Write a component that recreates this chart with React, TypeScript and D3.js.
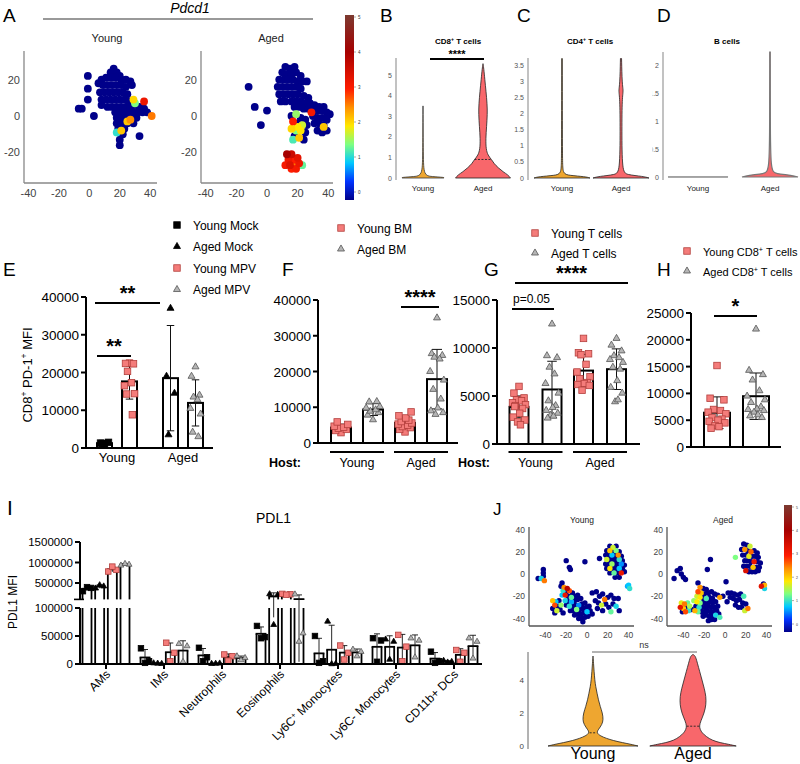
import React from 'react'
import * as d3 from 'd3'

type Pt = [number, number, number]
type Prof = [number, number][]

const FONT = '"Liberation Sans", Arial, Helvetica, sans-serif'
const RED = '#f47c7a', RED_EDGE = '#b33f3c', GREY = '#b5b5b5', GREY_EDGE = '#555'
const ORANGE_V = '#eea630', RED_V = '#f8676b'

// expression colour ramp (jet-like, used by both t-SNE panels)
const exprStops = [0, 0.5, 1, 1.5, 2, 2.5, 3, 4, 5]
const exprColours = ['#00008a', '#0033ff', '#00c8ff', '#7dff82', '#ffe800', '#ff9000', '#ff1c00', '#a60000', '#7c3a30']
const jet = d3.scaleLinear<string>().domain(exprStops).range(exprColours).clamp(true)

// ---------- A: Pdcd1 t-SNE  [x, y, expression]
const aYoung: Pt[] = [
  [16,26,0],[14,24,0],[18,24,0],[20,22,0],
  [8,20,0],[11,21,0],[14,21,0],[17,21,0],[21,20,0],[24,20,0],[27,19,0],
  [6,18,0],[9,17,0],[12,17,0],[15,17,0],[18,17,0],[21,17,0],[24,16,0],[28,17,0],
  [7,13,0],[10,13,0],[13,13,0],[16,13,0],[19,13,0],[22,13,0],[25,12,0],
  [8,9,0],[11,9,0],[14,9,0],[17,9,0],[20,9,0],[23,9,0],[26,8,0],
  [8,6,0],[12,5,0],[15,5,0],[18,5,0],[21,5,0],[24,5,0],[27,5,0],[30,6,0],[33,5,0],[36,4,0],
  [17,2,0],[20,2,0],[23,2,0],[26,2,0],[29,2,0],[32,2,0],[35,2,0],[38,2,0],
  [18,-1,0],[21,-1,0],[24,-1,0],[28,-1,0],[31,-1,0],
  [18,-4,0],[21,-4,0],[25,-4,0],[29,-4,0],[19,-7,0],[23,-7,0],
  [22,-10,0],[20,-13,0],[20,-16,0],
  [-1,22,0],[-1,15,0],[-1,9,0],[-7,4,0],[-5,4,0],[3,0,0],[33,-11,0],
  [41,0,2.6],[36,8,3.2],[29,9,2.1],[27,-2,2.5],[21,-8,2.2],[18,-9,1.2],[30,7,1.5],[25,-3,2.2],
]
const aAged: Pt[] = [
  [12,27,0],[15,26,0],[18,27,0],[10,24,0],[13,23,0],[16,23,0],[19,24,0],[22,22,0],
  [8,20,0],[11,20,0],[14,20,0],[17,20,0],[20,19,0],[23,19,0],[26,19,0],
  [7,16,0],[10,16,0],[13,16,0],[16,16,0],[19,16,0],[22,15,0],
  [8,12,0],[11,12,0],[14,12,0],[17,12,0],[20,12,0],[24,11,0],[27,10,0],
  [9,8,0],[12,8,0],[16,8,0],[19,8,0],[22,8,0],[25,7,0],[28,7,0],[31,6,0],[34,5,0],[37,5,0],
  [18,5,0],[21,5,0],[24,4,0],[27,4,0],[30,3,0],[33,3,0],[36,3,0],[39,2,0],[41,1,0],
  [30,0,0],[33,-1,0],[36,-1,0],[39,-2,0],[31,-4,0],[34,-4,0],[37,-5,0],[33,-8,0],[36,-9,0],[39,-8,0],
  [16,0,0],[19,1,1.6],[22,-1,0],[25,-2,0],[17,-3,3.0],[20,-4,0],[23,-5,1.8],[26,-5,0],[16,-7,2.1],
  [19,-8,1.5],[22,-8,2.0],[25,-9,0],[18,-11,0],[21,-12,2.2],[24,-13,0],[17,-13,1.3],[20,-6,2.0],[29,2,3.1],[37,-6,2.2],
  [13,-21,4],[16,-21,3.6],[14,-24,3.2],[17,-24,3.0],[20,-23,3.3],[12,-27,3.1],[15,-27,3.4],[18,-27,2.6],
  [21,-26,3.2],[23,-27,1.4],[16,-29,3.0],[19,-29,3.1],
  [-12,16,0],[-8,5,0],[0,3,0],[-4,-5,0],
]
const aTicksX = [-40, -20, 0, 20, 40]
const aTicksY = [-20, 0, 20]
const barTicks = [0, 1, 2, 3, 4, 5]

// ---------- B-D violins  [expression, relative half-width]
const bYoung: Prof = [[0,0.75],[0.03,0.8],[0.07,0.3],[0.12,0.03],[1,0.01],[3.5,0]]
const bAged: Prof = [[0,1],[0.15,0.91],[0.3,0.73],[0.5,0.55],[0.7,0.4],[0.9,0.31],[1.1,0.18],[1.4,0.11],[1.9,0.1],[2.5,0.13],[3.1,0.16],[3.6,0.15],[4.2,0.11],[4.8,0.065],[5.3,0.03],[5.55,0]]
const cYoung: Prof = [[0,1],[0.04,0.85],[0.08,0.25],[0.13,0.03],[0.5,0.015],[3.7,0.01]]
const cAged: Prof = [[0,1],[0.05,0.8],[0.1,0.2],[0.2,0.04],[1.5,0.03],[2.5,0.04],[2.7,0.09],[2.9,0.04],[3.7,0.02]]
const dYoung: Prof = [[0,1.07],[0.001,1.07]]
const dAged: Prof = [[0,1],[0.03,0.8],[0.06,0.2],[0.1,0.02],[1,0.012],[2.23,0.01]]
const bTicks = [0, 1, 2, 3, 4, 5]
const cTicks = [0, 0.5, 1, 1.5, 2, 2.5, 3, 3.5]
const dTicks = [0, 0.5, 1, 1.5, 2]

// ---------- E
const eGroups = ['Young', 'Aged']
const eYoungMock = [1100, 1300, 1500, 1200]
const eYoungMPV = [22500, 22400, 22300, 20300, 17300, 16500, 14400, 14300, 8800]
const eAgedMock = [37000, 19000, 14500, 3500]
const eAgedMPV = [21500, 19000, 14000, 13500, 12800, 10500, 9000, 4200, 3000]
const eTicks = [0, 10000, 20000, 30000, 40000]

// ---------- F (host x donor bone marrow)
const fHosts = ['Young', 'Aged']
const fYoungYoung = [2900, 3500, 3800, 4100, 4400, 4700, 5200, 5900]
const fYoungAged = [6500, 7800, 8500, 8900, 9300, 9800, 10200, 11500, 11600]
const fAgedYoung = [3100, 3800, 4300, 4600, 5000, 5300, 5600, 6000, 6400, 7000, 7600, 8700]
const fAgedAged = [35000, 25000, 24500, 24000, 23500, 20000, 17600, 15000, 12300, 9800, 9000, 8500, 8000]
const fTicks = [0, 10000, 20000, 30000, 40000]

// ---------- G (host x donor T cells)
const gYoungYoung = [6000, 5300, 4800, 4600, 4500, 4300, 4100, 4000, 3700, 3200, 2800, 2500, 2300, 2000, 3900]
const gYoungAged = [12500, 9200, 9000, 8000, 7300, 6300, 5300, 4500, 4000, 3800, 3500, 3200, 3000, 2900, 2700]
const gAgedYoung = [11000, 9500, 9400, 9300, 8300, 7500, 7000, 6800, 6400, 6300, 6200, 6100, 5600]
const gAgedAged = [11000, 10300, 9700, 9200, 9000, 8800, 8500, 8000, 7800, 6600, 5900, 5300, 4400, 4600]
const gTicks = [0, 5000, 10000, 15000]

// ---------- H
const hYoung = [15200, 9100, 8800, 7000, 6800, 6500, 6200, 5500, 5200, 5000, 4800, 4500, 4000, 3800, 3500]
const hAged = [22000, 14300, 13500, 12500, 10500, 9500, 8800, 8300, 7500, 7100, 7000, 6800, 6500, 6000, 5800, 5500]
const hTicks = [0, 5000, 10000, 15000, 20000, 25000]

// ---------- I: PDL1 MFI per cell type
const iCats = ['AMs', 'IMs', 'Neutrophils', 'Eosinophils', 'Ly6C+ Monocytes', 'Ly6C- Monocytes', 'CD11b+ DCs']
const iSeries = ['Young Mock', 'Aged Mock', 'Young MPV', 'Aged MPV']
const iYoungMock = [[300000,380000,400000],[28000,5000,2000],[29000,12000,5000],[68000,48000,46000],[50000,5000,2000],[46000,42000,4000],[22000,5000,2000]]
const iAgedMock = [[370000,420000,450000],[1500,500,1000],[500,1200,800],[230000,215000,70000],[76000,500,0],[44000,40000,8000],[6000,4000,3000]]
const iYoungMPV = [[780000,820000,900000],[38000,20000,5000],[17000,14000,6000],[235000,225000,215000],[33000,20000,8000],[52000,31000,5000],[25000,20000,4000]]
const iAgedMPV = [[930000,950000,970000],[36000,32000,4000],[14000,11000,7000],[225000,55000,40000],[26000,22000,14000],[46000,42000,12000],[46000,40000,10000]]
const iLowTicks = [0, 50000, 100000]
const iHighTicks = [500000, 1000000, 1500000]

// ---------- J: t-SNE + violin
const jYoung: Pt[] = [
  [22,25,0],[25,24,1.8],[28,25,0],[19,21,0],[22,21,2.2],[25,21,0],[28,21,1.5],[31,20,0],
  [18,17,0],[21,17,0],[24,17,1],[27,17,0],[30,17,2.5],[33,16,0],[19,13,1.8],[22,13,0],[25,13,0],[28,13,0],[31,13,1.2],[34,12,0],
  [18,9,0],[21,9,0],[24,9,1.6],[27,9,0],[30,9,0],[33,9,0.8],[36,8,0],[19,5,0],[22,5,2],[25,5,0],[28,5,0],[31,5,1],[34,5,0],
  [22,1,0],[26,1,1.4],[29,1,0],[33,1,3.2],[36,2,0],[27,-3,0],[31,-3,0],
  [-47,-4,0],[-44,-4,1.1],[-42,4,0],[-42,1,0],[-42,-2,0],[-41,-6,2.6],
  [-20,12,0],[-16,4,0],[-17,6,0],[-2,11,0],[12,14,0],[-24,-8,0],
  [-25,-11,0],[-22,-12,2.5],[-19,-13,3.8],[-23,-15,1.2],[-20,-16,0],[-17,-15,2.8],[-14,-17,0],[-24,-19,1],[-21,-19,3.2],
  [-18,-20,0],[-15,-21,1.4],[-12,-20,0],[-9,-19,0],
  [-33,-24,2.2],[-30,-25,1],[-27,-24,0],[-31,-28,2.8],[-28,-29,0],[-25,-28,1.6],[-33,-31,0],[-29,-33,1.8],[-26,-32,0],[-31,-35,0],[-23,-35,0],
  [-21,-24,1.1],[-18,-25,0],[-15,-25,0.9],[-12,-24,0],[-9,-23,0],[-6,-22,0],
  [-20,-28,0],[-17,-29,1.2],[-14,-29,0],[-11,-28,0],[-8,-28,0.8],[-5,-27,0],[-2,-26,0],
  [-16,-33,0],[-13,-33,0],[-10,-32,1.5],[-7,-32,0],[-4,-31,0],[-1,-30,0],[2,-29,0],
  [-12,-37,0],[-9,-36,0],[-6,-36,0],[-3,-35,0],[0,-34,1],[3,-33,0],
  [-8,-40,0],[-5,-40,0],[-2,-39,0],[1,-38,0],[-4,-43,0],[5,-36,0],
  [5,-17,0],[9,-16,0],[12,-20,0],[15,-18,0],[17,-23,2.6],[20,-21,0],[23,-19,0],[26,-22,0],[30,-22,0],
  [8,-24,0],[11,-26,0],[14,-28,1.8],[18,-27,0],[21,-30,0],[25,-27,0],[28,-29,1.1],[10,-31,0],[15,-33,0],[23,-34,1.4],[31,-33,0],
  [40,-10,1],[41,-13,1.2],[39,-11,0.9],
]
const jAged: Pt[] = [
  [18,27,0],[21,26,0],[24,25,1.8],[16,22,0],[19,22,2.5],[22,21,0],[25,20,2.7],[28,21,0],[31,19,0],
  [17,17,0],[20,17,0],[23,16,1.9],[26,16,0],[29,16,0],[32,15,0],
  [19,12,0],[22,12,0],[25,11,0],[28,11,3.2],[31,11,0],[34,10,0],
  [18,7,0],[21,7,0],[24,7,0],[27,6,2.2],[30,6,0],[33,6,0],
  [20,3,3.4],[23,2,0],[26,2,0],[29,2,0],[32,3,0],
  [-49,-4,0],[-46,3,0],[-43,5,0],[-42,0,0],[-40,-3,0],[-38,-5,0],
  [-14,13,0],[-17,4,0],[1,-7,0],[10,15,1.5],[-26,-8,0],
  [35,-11,3.3],[38,-10,2.3],[38,-13,1.1],[37,-9,0],
  [-24,-12,2.5],[-21,-13,0],[-18,-14,0],[-26,-16,2.8],[-23,-17,2.2],[-20,-18,0],[-16,-17,0],[-13,-16,0],[-10,-18,0],[-7,-19,0],
  [-27,-20,1.8],[-24,-21,2],[-21,-22,0],[-18,-22,1.3],[-15,-21,0],[-12,-22,0],[-5,-21,2.4],[-2,-20,0],
  [-42,-26,1.9],[-39,-27,2.6],[-36,-26,1.4],[-43,-30,3.3],[-40,-31,2.2],[-37,-30,0],[-34,-29,1.7],[-41,-34,0],[-38,-34,2.8],[-35,-33,1.2],[-32,-32,0],
  [-30,-24,1.6],[-27,-25,2],[-24,-26,1.5],[-21,-26,0],[-18,-26,0],[-15,-25,0],[-12,-26,0],[-9,-25,0],
  [-28,-29,0],[-25,-30,1.2],[-22,-30,0],[-19,-30,0],[-16,-29,0],[-13,-30,0],[-10,-30,0],[-7,-29,0],
  [-29,-33,2.3],[-26,-34,1.4],[-23,-34,0],[-20,-34,0],[-17,-33,0],[-14,-34,0],[-11,-34,0],[-8,-33,0],
  [-21,-38,0],[-18,-37,0],[-15,-38,0],[-12,-38,0],[-9,-37,1.1],[-6,-36,0],[-16,-42,0],[-13,-41,0],[-10,-41,0],[-5,-39,1.3],
  [3,-17,0],[6,-17,0],[9,-18,0],[12,-19,0],[15,-18,0],[18,-20,1.3],[5,-21,0],[8,-22,0],[11,-24,0],[14,-23,0],
  [17,-26,0],[20,-27,0],[10,-28,0],[13,-30,0],[16,-30,0],[19,-33,1.8],[2,-25,0],[22,-31,2.6],
]
const jTicksX = [-40, -20, 0, 20, 40]
const jTicksY = [-40, -20, 0, 20, 40]
const jViolinYoung: Prof = [[0,1],[0.1,0.85],[0.2,0.66],[0.33,0.45],[0.46,0.3],[0.6,0.17],[0.8,0.075],[1.0,0.12],[1.3,0.2],[1.6,0.23],[2.0,0.21],[2.4,0.16],[2.8,0.12],[3.2,0.09],[3.6,0.06],[4.0,0.04],[4.5,0.025],[5.0,0.012],[5.45,0]]
const jViolinAged: Prof = [[0,0.96],[0.1,0.8],[0.2,0.6],[0.35,0.42],[0.56,0.3],[0.8,0.2],[1.0,0.16],[1.2,0.14],[1.5,0.17],[2.0,0.25],[2.5,0.29],[3.0,0.29],[3.5,0.25],[4.0,0.2],[4.5,0.15],[5.0,0.1],[5.4,0.06],[5.5,0.03],[5.55,0]]
const jViolinTicks = [0, 2, 4]

// ---------- shared bits
const ST: Record<string, {shape: 'sq' | 'tri', fill: string, edge: string}> = {
  blackSq: {shape: 'sq', fill: '#000', edge: '#000'},
  blackTri: {shape: 'tri', fill: '#000', edge: '#000'},
  redSq: {shape: 'sq', fill: RED, edge: RED_EDGE},
  greyTri: {shape: 'tri', fill: GREY, edge: GREY_EDGE},
}
const JIT = [0, -0.7, 0.7, -0.35, 0.35, -0.9, 0.9, -0.5, 0.5, 0.1, -0.8, 0.8, -0.2, 0.2, -0.6, 0.6]

const Sup = ({children}: any) => <tspan baselineShift="super" fontSize="65%">{children}</tspan>

function Mark({shape, x, y, s, fill, edge}: any) {
  if (shape === 'sq') return <rect x={x - s / 2} y={y - s / 2} width={s} height={s} fill={fill} stroke={edge} strokeWidth={0.8} />
  const d = d3.symbol(d3.symbolTriangle, s * s * 0.5)()!
  return <path d={d} transform={`translate(${x},${y})`} fill={fill} stroke={edge} strokeWidth={0.8} />
}

function Tsne({pts, box, xDom, yDom, xTicks, yTicks, title, titleX, titleY, r, fs, axisCol}: any) {
  const [l, t, rr, b] = box
  const x = d3.scaleLinear().domain(xDom).range([l, rr])
  const y = d3.scaleLinear().domain(yDom).range([b, t])
  const sorted = [...pts].sort((p: Pt, q: Pt) => p[2] - q[2])
  return <g>
    <text x={titleX} y={titleY} fontSize={fs} textAnchor="middle" fill="#222">{title}</text>
    {sorted.map((p: Pt, i: number) => <circle key={i} cx={x(p[0])} cy={y(p[1])} r={r} fill={jet(p[2])} />)}
    <line x1={l} x2={l} y1={t} y2={b} stroke={axisCol} strokeWidth={1.3} />
    <line x1={l} x2={rr} y1={b} y2={b} stroke={axisCol} strokeWidth={1.3} />
    {xTicks.map((v: number) => <text key={v} x={x(v)} y={b + fs + 3} fontSize={fs} textAnchor="middle" fill="#444">{v}</text>)}
    {yTicks.map((v: number) => <text key={v} x={l - 4} y={y(v) + fs * 0.36} fontSize={fs} textAnchor="end" fill="#444">{v}</text>)}
  </g>
}

function ColourBar({x, y, w, h, id, fs}: any) {
  const ly = d3.scaleLinear().domain([0, 5]).range([y + h - 8, y + 2])
  return <g>
    <rect x={x} y={y} width={w} height={h} fill={`url(#${id})`} />
    {barTicks.map(v => <g key={v}>
      <line x1={x + w} x2={x + w + 2} y1={ly(v)} y2={ly(v)} stroke="#555" strokeWidth={0.5} />
      <text x={x + w + 4} y={ly(v) + 1.5} fontSize={fs} fill="#333">{v}</text>
    </g>)}
  </g>
}

function Violin({cx, y, w, profile, fill, stroke = '#222', sw = 0.8, median}: any) {
  const area = d3.area<[number, number]>()
    .y(d => y(d[0])).x0(d => cx - w(d[1])).x1(d => cx + w(d[1])).curve(d3.curveBasis)
  let med = null
  if (median != null) {
    const i = d3.bisector((d: [number, number]) => d[0]).left(profile, median)
    const a = profile[i - 1], b = profile[i]
    const t = (median - a[0]) / (b[0] - a[0])
    const hw = w(a[1] + t * (b[1] - a[1]))
    med = <line x1={cx - hw} x2={cx + hw} y1={y(median)} y2={y(median)} stroke="#222" strokeWidth={0.9} strokeDasharray="2,1.5" />
  }
  return <g><path d={area(profile)!} fill={fill} stroke={stroke} strokeWidth={sw} />{med}</g>
}

function ViolinPanel({axisX, y, ticks, top, bottom, title, titleX, xs, labels, children}: any) {
  return <g>
    <text x={titleX} y={44} fontSize={8} fontWeight="bold" textAnchor="middle">{title}</text>
    <line x1={axisX} x2={axisX} y1={top} y2={bottom} stroke="#999" strokeWidth={1.2} />
    {ticks.map((v: number) => <text key={v} x={axisX - 4} y={y(v) + 2.5} fontSize={7} textAnchor="end" fill="#555">{v}</text>)}
    {children}
    {labels.map((l: string, i: number) => <text key={l} x={xs[i]} y={191} fontSize={8} textAnchor="middle" fill="#222">{l}</text>)}
  </g>
}

function BarPanel({y, ticks, axisX, xEnd, bars, bw, ms}: any) {
  const y0 = y(0)
  return <g>
    {bars.map((b: any, i: number) => {
      const m = d3.mean(b.vals)!, sd = d3.deviation(b.vals)!
      const lo = Math.max(0, m - sd), hi = m + sd
      return <g key={i}>
        <rect x={b.x - bw / 2} y={y(m)} width={bw} height={y0 - y(m)} fill="#fff" stroke="#000" strokeWidth={2} />
        <line x1={b.x} x2={b.x} y1={y(lo)} y2={y(hi)} stroke="#111" strokeWidth={1} />
        <line x1={b.x - bw / 4} x2={b.x + bw / 4} y1={y(hi)} y2={y(hi)} stroke="#111" strokeWidth={1} />
        <line x1={b.x - bw / 4} x2={b.x + bw / 4} y1={y(lo)} y2={y(lo)} stroke="#111" strokeWidth={1} />
        {b.vals.map((v: number, j: number) =>
          <Mark key={j} {...b.st} x={b.x + JIT[j % JIT.length] * bw * 0.38} y={y(v)} s={ms} />)}
      </g>
    })}
    <line x1={axisX} x2={axisX} y1={y(ticks[ticks.length - 1])} y2={y0 + 1} stroke="#000" strokeWidth={2} />
    <line x1={axisX} x2={xEnd} y1={y0} y2={y0} stroke="#000" strokeWidth={2} />
    {ticks.map((v: number) => <g key={v}>
      <line x1={axisX - 5} x2={axisX} y1={y(v)} y2={y(v)} stroke="#000" strokeWidth={2} />
      <text x={axisX - 7} y={y(v) + 5} fontSize={13.5} textAnchor="end">{v}</text>
    </g>)}
  </g>
}

function Legend({x, y, items, fs, gap}: any) {
  return <g>
    {items.map((it: any, i: number) => <g key={i}>
      <Mark {...ST[it.st]} x={x} y={y + i * gap} s={6.5} />
      <text x={x + 16} y={y + i * gap + 4.5} fontSize={fs}>{it.label}</text>
    </g>)}
  </g>
}

function Sig({x1, x2, y, label, fs = 20, dy = -3, bold = true, anchor = 'middle', tx}: any) {
  return <g>
    <line x1={x1} x2={x2} y1={y} y2={y} stroke="#000" strokeWidth={2} />
    <text x={tx ?? (x1 + x2) / 2} y={y + dy} fontSize={fs} fontWeight={bold ? 'bold' : 'normal'} textAnchor={anchor}>{label}</text>
  </g>
}

function HostAxis({gx, groups, hostX}: any) {
  return <g>
    <text x={hostX} y={467} fontSize={12.5} fontWeight="bold" textAnchor="end">Host:</text>
    {groups.map((g: string) => <g key={g}>
      <line x1={gx(g) - 27} x2={gx(g) + 27} y1={452} y2={452} stroke="#000" strokeWidth={2.2} />
      <text x={gx(g)} y={467} fontSize={12.5} textAnchor="middle">{g}</text>
    </g>)}
  </g>
}

function IPanel() {
  const gx = d3.scalePoint<string>().domain(iCats).range([106, 454])
  const sx = d3.scalePoint<string>().domain(iSeries).range([-19, 19])
  const yLow = d3.scaleLinear().domain([0, 100000]).range([664, 608])
  const yHigh = d3.scaleLinear().domain([100000, 1500000]).range([599.4, 542])
  const yv = (v: number) => v <= 100000 ? yLow(v) : yHigh(v)
  const data = [iYoungMock, iAgedMock, iYoungMPV, iAgedMPV]
  const styles = [ST.blackSq, ST.blackTri, ST.redSq, ST.greyTri]
  const bw = 9, axX = 80
  const catLabel = (c: string) => {
    const m = c.match(/^(Ly6C)\+(.*)$/)
    return m ? <>{m[1]}<Sup>+</Sup>{m[2]}</> : c
  }
  return <g>
    <text x={7} y={515} fontSize={21}>I</text>
    <text x={256} y={523} fontSize={14}>PDL1</text>
    <text transform="translate(17,602) rotate(-90)" fontSize={12} textAnchor="middle">PDL1 MFI</text>
    {iCats.map((c, ci) => iSeries.map((s, si) => {
      const vals = data[si][ci]
      const m = d3.mean(vals)!, sd = d3.deviation(vals)!
      const x = gx(c)! + sx(s)!
      const xl = x - bw / 2, xr = x + bw / 2
      const topLow = yLow(Math.min(m, 100000))
      const lo = Math.max(0, m - sd), hi = m + sd
      const edge = '#000'
      return <g key={c + s}>
        <rect x={xl} y={topLow} width={bw} height={664 - topLow} fill="#fff" />
        <line x1={xl} x2={xl} y1={664} y2={topLow} stroke={edge} strokeWidth={1.8} />
        <line x1={xr} x2={xr} y1={664} y2={topLow} stroke={edge} strokeWidth={1.8} />
        {m <= 100000 && <line x1={xl - 0.9} x2={xr + 0.9} y1={topLow} y2={topLow} stroke={edge} strokeWidth={1.8} />}
        {m > 100000 && <g>
          <rect x={xl} y={yHigh(m)} width={bw} height={599.4 - yHigh(m)} fill="#fff" />
          <line x1={xl} x2={xl} y1={599.4} y2={yHigh(m)} stroke={edge} strokeWidth={1.8} />
          <line x1={xr} x2={xr} y1={599.4} y2={yHigh(m)} stroke={edge} strokeWidth={1.8} />
          <line x1={xl - 0.9} x2={xr + 0.9} y1={yHigh(m)} y2={yHigh(m)} stroke={edge} strokeWidth={1.8} />
        </g>}
        <line x1={x} x2={x} y1={yv(lo)} y2={yv(hi)} stroke="#111" strokeWidth={0.9} />
        <line x1={x - 3} x2={x + 3} y1={yv(hi)} y2={yv(hi)} stroke="#111" strokeWidth={0.9} />
        {vals.map((v, j) => <Mark key={j} {...styles[si]} x={x + [-0.45, 0.45, 0][j % 3] * bw} y={yv(v)} s={5.5} />)}
      </g>
    }))}
    <line x1={axX} x2={axX} y1={542} y2={599.4} stroke="#000" strokeWidth={2} />
    <line x1={axX} x2={axX} y1={608} y2={665} stroke="#000" strokeWidth={2} />
    <line x1={axX - 6} x2={axX + 4} y1={599.4} y2={599.4} stroke="#000" strokeWidth={1.6} />
    {iHighTicks.map(v => <g key={v}>
      <line x1={axX - 5} x2={axX} y1={yHigh(v)} y2={yHigh(v)} stroke="#000" strokeWidth={2} />
      <text x={axX - 7} y={yHigh(v) + 4} fontSize={11.5} textAnchor="end">{v}</text>
    </g>)}
    {iLowTicks.map(v => <g key={v}>
      <line x1={axX - 5} x2={axX} y1={yLow(v)} y2={yLow(v)} stroke="#000" strokeWidth={2} />
      <text x={axX - 7} y={yLow(v) + 4} fontSize={11.5} textAnchor="end">{v}</text>
    </g>)}
    <line x1={axX} x2={482} y1={664} y2={664} stroke="#000" strokeWidth={2} />
    {iCats.map(c => <g key={c}>
      <line x1={gx(c)} x2={gx(c)} y1={664} y2={669} stroke="#000" strokeWidth={2} />
      <text transform={`translate(${gx(c)! + 5},${675}) rotate(-45)`} fontSize={12} textAnchor="end">{catLabel(c)}</text>
    </g>)}
  </g>
}

export default function App() {
  // B-D scales
  const yB = d3.scaleLinear().domain([0, 5]).range([178, 75])
  const wB = d3.scaleLinear().domain([0, 1]).range([0, 27.5])
  const xB = d3.scalePoint<string>().domain(['Young', 'Aged']).range([423, 483])
  const yC = d3.scaleLinear().domain([0, 3.5]).range([178, 65])
  const wC = d3.scaleLinear().domain([0, 1]).range([0, 28])
  const xC = d3.scalePoint<string>().domain(['Young', 'Aged']).range([562, 621])
  const yD = d3.scaleLinear().domain([0, 2]).range([177, 65])
  const xD = d3.scalePoint<string>().domain(['Young', 'Aged']).range([698, 770])

  // E-H scales
  const yE = d3.scaleLinear().domain([0, 40000]).range([448, 297])
  const gxE = d3.scalePoint<string>().domain(eGroups).range([117, 183])
  const sxE = d3.scalePoint<string>().domain(['Mock', 'MPV']).range([-12.5, 12.5])
  const yF = d3.scaleLinear().domain([0, 40000]).range([443, 300])
  const gxF = d3.scalePoint<string>().domain(fHosts).range([357, 421])
  const sxF = d3.scalePoint<string>().domain(['Young', 'Aged']).range([-16, 16])
  const yG = d3.scaleLinear().domain([0, 15000]).range([444, 300])
  const gxG = d3.scalePoint<string>().domain(fHosts).range([535.5, 600])
  const sxG = d3.scalePoint<string>().domain(['Young', 'Aged']).range([-16.5, 16.5])
  const yH = d3.scaleLinear().domain([0, 25000]).range([447, 313])
  const sxH = d3.scalePoint<string>().domain(['Young', 'Aged']).range([717, 756])

  // J violin scales
  const yJ = d3.scaleLinear().domain([0, 4]).range([746, 680])
  const wJ = d3.scaleLinear().domain([0, 1]).range([0, 45])
  const xJ = d3.scalePoint<string>().domain(['Young', 'Aged']).range([593, 693])

  return (
    <svg width={800} height={764} style={{position: 'absolute', left: 0, top: 0, background: '#fff'}} fontFamily={FONT}>
      <defs>
        {['jetA', 'jetJ'].map(id =>
          <linearGradient key={id} id={id} x1="0" y1="1" x2="0" y2="0">
            {exprStops.map((s, i) => <stop key={i} offset={s / 5} stopColor={exprColours[i]} />)}
          </linearGradient>)}
        <clipPath id="clipD"><rect x={652.5} y={40} width={150} height={160} /></clipPath>
      </defs>

      {/* A */}
      <text x={3} y={22} fontSize={19}>A</text>
      <text x={190} y={13} fontSize={14} fontStyle="italic" textAnchor="middle">Pdcd1</text>
      <line x1={43} x2={313} y1={19} y2={19} stroke="#777" strokeWidth={1.3} />
      <Tsne pts={aYoung} box={[24, 51, 157, 183]} xDom={[-43, 44.5]} yDom={[-36.8, 35.7]} xTicks={aTicksX} yTicks={aTicksY}
        title="Young" titleX={107} titleY={42} r={3.9} fs={11} axisCol="#888" />
      <Tsne pts={aAged} box={[201, 51, 333, 183]} xDom={[-43.1, 43.1]} yDom={[-36.8, 35.7]} xTicks={aTicksX} yTicks={aTicksY}
        title="Aged" titleX={271} titleY={42} r={3.9} fs={11} axisCol="#888" />
      <ColourBar x={345} y={15} w={9} h={185} id="jetA" fs={4.5} />

      {/* B */}
      <text x={380} y={22} fontSize={19}>B</text>
      <ViolinPanel axisX={396} y={yB} ticks={bTicks} top={58} bottom={180} title={<>CD8<Sup>+</Sup> T cells</>} titleX={458}
        xs={[xB('Young'), xB('Aged')]} labels={['Young', 'Aged']}>
        <Violin cx={xB('Young')} y={yB} w={wB} profile={bYoung} fill={ORANGE_V} stroke="#333" />
        <Violin cx={xB('Aged')} y={yB} w={wB} profile={bAged} fill={RED_V} median={0.9} />
        <Sig x1={430} x2={484} y={59} label="****" fs={11} dy={-1} />
      </ViolinPanel>

      {/* C */}
      <text x={517} y={22} fontSize={19}>C</text>
      <ViolinPanel axisX={528} y={yC} ticks={cTicks} top={58} bottom={180} title={<>CD4<Sup>+</Sup> T cells</>} titleX={590}
        xs={[xC('Young'), xC('Aged')]} labels={['Young', 'Aged']}>
        <Violin cx={xC('Young')} y={yC} w={wC} profile={cYoung} fill={ORANGE_V} />
        <Violin cx={xC('Aged')} y={yC} w={wC} profile={cAged} fill={RED_V} />
      </ViolinPanel>

      {/* D */}
      <text x={657} y={22} fontSize={19}>D</text>
      <g clipPath="url(#clipD)">
        {dTicks.map(v => <text key={v} x={659} y={yD(v) + 2.5} fontSize={7} textAnchor="end" fill="#555">{v}</text>)}
      </g>
      <ViolinPanel axisX={663} y={yD} ticks={[]} top={52} bottom={180} title="B cells" titleX={727}
        xs={[xD('Young'), xD('Aged')]} labels={['Young', 'Aged']}>
        <Violin cx={xD('Young')} y={yD} w={wC} profile={dYoung} fill="#888" stroke="#888" sw={1} />
        <Violin cx={xD('Aged')} y={yD} w={wC} profile={dAged} fill={RED_V} stroke="#777" sw={1.2} />
      </ViolinPanel>

      {/* E */}
      <text x={3} y={276} fontSize={19}>E</text>
      <Legend x={177} y={225} gap={21.5} fs={12} items={[
        {st: 'blackSq', label: 'Young Mock'}, {st: 'blackTri', label: 'Aged Mock'},
        {st: 'redSq', label: 'Young MPV'}, {st: 'greyTri', label: 'Aged MPV'}]} />
      <text transform="translate(32,375) rotate(-90)" fontSize={13} textAnchor="middle">
        CD8<Sup>+</Sup> PD-1<Sup>+</Sup> MFI
      </text>
      <BarPanel y={yE} ticks={eTicks} axisX={86} xEnd={213} bw={15} ms={6.5} bars={[
        {x: gxE('Young')! + sxE('Mock')!, vals: eYoungMock, st: ST.blackSq},
        {x: gxE('Young')! + sxE('MPV')!, vals: eYoungMPV, st: ST.redSq},
        {x: gxE('Aged')! + sxE('Mock')!, vals: eAgedMock, st: ST.blackTri},
        {x: gxE('Aged')! + sxE('MPV')!, vals: eAgedMPV, st: ST.greyTri},
      ]} />
      {eGroups.map(g => <text key={g} x={gxE(g)} y={462} fontSize={13} textAnchor="middle">{g}</text>)}
      <Sig x1={97} x2={131} y={356} label="**" />
      <Sig x1={95} x2={160} y={303} label="**" />

      {/* F */}
      <text x={282} y={276} fontSize={19}>F</text>
      <Legend x={341} y={228} gap={21} fs={12} items={[{st: 'redSq', label: 'Young BM'}, {st: 'greyTri', label: 'Aged BM'}]} />
      <BarPanel y={yF} ticks={fTicks} axisX={318} xEnd={458} bw={20} ms={6.5} bars={[
        {x: gxF('Young')! + sxF('Young')!, vals: fYoungYoung, st: ST.redSq},
        {x: gxF('Young')! + sxF('Aged')!, vals: fYoungAged, st: ST.greyTri},
        {x: gxF('Aged')! + sxF('Young')!, vals: fAgedYoung, st: ST.redSq},
        {x: gxF('Aged')! + sxF('Aged')!, vals: fAgedAged, st: ST.greyTri},
      ]} />
      <HostAxis gx={gxF} groups={fHosts} hostX={301} />
      <Sig x1={401} x2={439} y={307} label="****" />

      {/* G */}
      <text x={484} y={276} fontSize={19}>G</text>
      <Legend x={535} y={233} gap={20} fs={12} items={[{st: 'redSq', label: 'Young T cells'}, {st: 'greyTri', label: 'Aged T cells'}]} />
      <BarPanel y={yG} ticks={gTicks} axisX={497} xEnd={640} bw={19} ms={6.5} bars={[
        {x: gxG('Young')! + sxG('Young')!, vals: gYoungYoung, st: ST.redSq},
        {x: gxG('Young')! + sxG('Aged')!, vals: gYoungAged, st: ST.greyTri},
        {x: gxG('Aged')! + sxG('Young')!, vals: gAgedYoung, st: ST.redSq},
        {x: gxG('Aged')! + sxG('Aged')!, vals: gAgedAged, st: ST.greyTri},
      ]} />
      <HostAxis gx={gxG} groups={fHosts} hostX={490} />
      <Sig x1={512} x2={554} y={309} label="p=0.05" fs={12} bold={false} anchor="start" tx={513} dy={-6} />
      <Sig x1={515} x2={628} y={283} label="****" />

      {/* H */}
      <text x={657} y={276} fontSize={19}>H</text>
      <Legend x={687} y={251} gap={20} fs={11} items={[
        {st: 'redSq', label: <>Young CD8<Sup>+</Sup> T cells</>}, {st: 'greyTri', label: <>Aged CD8<Sup>+</Sup> T cells</>}]} />
      <BarPanel y={yH} ticks={hTicks} axisX={691} xEnd={781} bw={26} ms={6.5} bars={[
        {x: sxH('Young')!, vals: hYoung, st: ST.redSq},
        {x: sxH('Aged')!, vals: hAged, st: ST.greyTri},
      ]} />
      <Sig x1={714} x2={757} y={316} label="*" />

      {/* I */}
      <IPanel />

      {/* J */}
      <text x={493} y={515} fontSize={17}>J</text>
      <Tsne pts={jYoung} box={[529, 527, 634, 626]} xDom={[-55.8, 45.2]} yDom={[-46.8, 42.3]} xTicks={jTicksX} yTicks={jTicksY}
        title="Young" titleX={582} titleY={523} r={2.7} fs={8.5} axisCol="#555" />
      <Tsne pts={jAged} box={[667, 527, 772, 626]} xDom={[-55.8, 45.2]} yDom={[-46.8, 42.3]} xTicks={jTicksX} yTicks={jTicksY}
        title="Aged" titleX={723} titleY={523} r={2.7} fs={8.5} axisCol="#555" />
      <ColourBar x={784} y={505} w={8} h={127} id="jetJ" fs={3.5} />

      <line x1={528} x2={528} y1={652} y2={749} stroke="#666" strokeWidth={1} />
      {jViolinTicks.map(v => <text key={v} x={524} y={yJ(v) + 3} fontSize={8} textAnchor="end" fill="#444">{v}</text>)}
      <Violin cx={xJ('Young')} y={yJ} w={wJ} profile={jViolinYoung} fill={ORANGE_V} median={0.8} />
      <Violin cx={xJ('Aged')} y={yJ} w={wJ} profile={jViolinAged} fill={RED_V} median={1.2} />
      <line x1={592} x2={697} y1={652} y2={652} stroke="#666" strokeWidth={1} />
      <text x={644} y={648} fontSize={9} textAnchor="middle" fill="#333">ns</text>
      {['Young', 'Aged'].map(g => <text key={g} x={xJ(g)} y={759} fontSize={16} textAnchor="middle">{g}</text>)}
    </svg>
  )
}
